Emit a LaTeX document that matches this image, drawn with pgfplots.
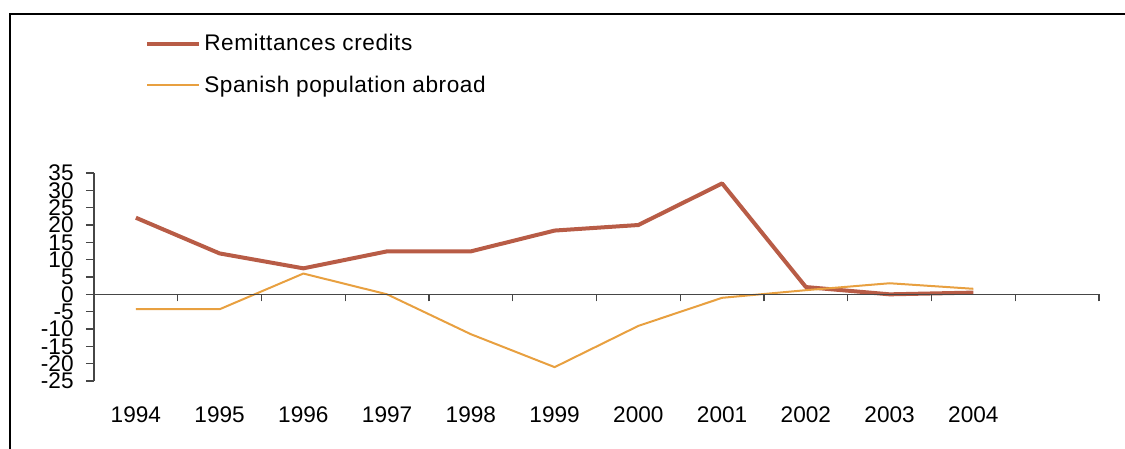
\documentclass[border=0pt]{standalone}
\usepackage{pgfplots}
\pgfplotsset{compat=1.18}
\usepackage{fontspec}
\setmainfont{Liberation Sans}
\newfontfamily\legfont[LetterSpace=2.5]{Liberation Sans}
\definecolor{remit}{RGB}{184,92,70}
\definecolor{spop}{RGB}{232,160,64}
\definecolor{axgray}{RGB}{70,70,70}
\begin{document}
\begin{tikzpicture}
\useasboundingbox (0,0) rectangle (562.5pt,-224.5pt);
\draw[black, line width=0.9pt] (5pt,-224.5pt) -- (5pt,-7pt) -- (562.5pt,-7pt);
% main axis
\begin{axis}[
  at={(47pt,-190.5pt)}, anchor=south west,
  scale only axis, width=502.5pt, height=104pt,
  xmin=-0.5, xmax=11.5, ymin=-25, ymax=35,
  axis lines*=left,
  x axis line style={draw=none},
  y axis line style={axgray, line width=0.6pt, -},
  xtick={0,...,10},
  xticklabels={1994,1995,1996,1997,1998,1999,2000,2001,2002,2003,2004},
  xticklabel style={anchor=center, yshift=-17pt, font=\fontsize{11.3}{11.3}\selectfont},
  xtick style={draw=none},
  ytick={-25,-20,...,35},
  ytick align=outside,
  ytick style={axgray, line width=0.6pt},
  major tick length=4pt,
  yticklabel style={anchor=east, inner sep=0pt, xshift=-6pt, font=\fontsize{11.3}{11.3}\selectfont},
  /pgf/number format/assume math mode=true,
  clip=false,
  legend style={draw=none, fill=none, at={(0.0507,1.6875)}, anchor=north west,
    font=\legfont\fontsize{11.3}{13}\selectfont, row sep=7pt, inner sep=0pt},
  legend cell align=left,
  legend image code/.code={\draw[#1] plot coordinates {(0pt,0pt) (13pt,0pt) (26pt,0pt)};},
]
\addplot[color=remit, line width=2pt, line join=round] coordinates {
 (0,22.1) (1,11.8) (2,7.5) (3,12.4) (4,12.4) (5,18.4) (6,20.0) (7,32.0) (8,2.1) (9,0.0) (10,0.5)};
\addlegendentry{\hspace{-0.5pt}Remittances credits}
\addplot[color=spop, line width=1pt, line join=round] coordinates {
 (0,-4.3) (1,-4.3) (2,6.0) (3,0.0) (4,-11.5) (5,-21.0) (6,-9.1) (7,-1.0) (8,1.2) (9,3.2) (10,1.6)};
\addlegendentry{\hspace{-0.5pt}Spanish population abroad}
\end{axis}
% zero line with category boundary ticks
\begin{axis}[
  at={(47pt,-190.5pt)}, anchor=south west,
  scale only axis, width=502.5pt, height=104pt,
  xmin=-0.5, xmax=11.5, ymin=-25, ymax=35,
  axis y line=none,
  axis x line=middle,
  x axis line style={axgray, line width=0.6pt, -},
  xtick={-0.5,0.5,...,11.5},
  xticklabels={},
  xtick style={axgray, line width=0.6pt, yshift=-1.75pt},
  major tick length=3.5pt,
  ytick=\empty,
]
\end{axis}
\end{tikzpicture}
\end{document}
